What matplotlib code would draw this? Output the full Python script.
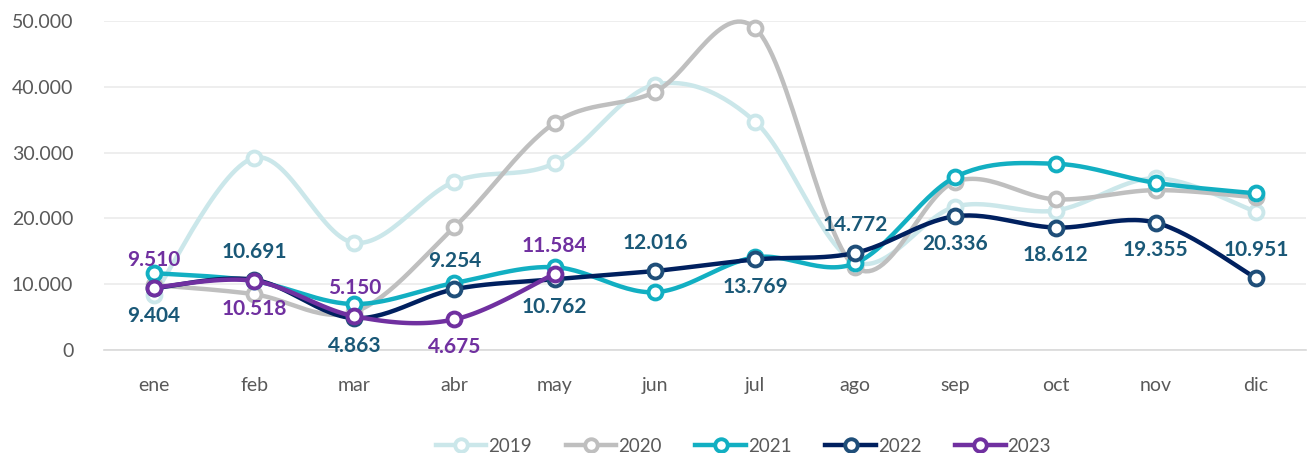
import numpy as np
import matplotlib.pyplot as plt

plt.rcParams['font.family'] = ['Lato', 'DejaVu Sans']

meses = ['ene', 'feb', 'mar', 'abr', 'may', 'jun', 'jul', 'ago', 'sep', 'oct', 'nov', 'dic']

v2019 = [8400, 29200, 16300, 25600, 28400, 40300, 34700, 13400, 21800, 21200, 26100, 21000]
v2020 = [9900, 8500, 5800, 18700, 34500, 39200, 48900, 12600, 25600, 22900, 24300, 23200]
v2021 = [11700, 10500, 7000, 10200, 12600, 8800, 14100, 13200, 26300, 28300, 25400, 23800]
v2022 = [9404, 10691, 4863, 9254, 10762, 12016, 13769, 14772, 20336, 18612, 19355, 10951]
v2023 = [9510, 10518, 5150, 4675, 11584]

# posicion de las etiquetas (1 arriba, -1 abajo)
pos2022 = [-1, 1, -1, 1, -1, 1, -1, 1, -1, -1, -1, 1]
pos2023 = [1, -1, 1, -1, 1]


def suavizar(x, y, n=30):
    # curva suave tipo Excel (Catmull-Rom en Bezier)
    x = np.asarray(x, float)
    y = np.asarray(y, float)
    px = np.concatenate([[x[0]], x, [x[-1]]])
    py = np.concatenate([[y[0]], y, [y[-1]]])
    xs, ys = [], []
    t = np.linspace(0, 1, n)
    for i in range(1, len(px) - 2):
        p0 = np.array([px[i], py[i]])
        p3 = np.array([px[i + 1], py[i + 1]])
        p1 = p0 + (np.array([px[i + 1], py[i + 1]]) - np.array([px[i - 1], py[i - 1]])) / 6
        p2 = p3 - (np.array([px[i + 2], py[i + 2]]) - np.array([px[i], py[i]])) / 6
        b = ((1 - t) ** 3)[:, None] * p0 + (3 * (1 - t) ** 2 * t)[:, None] * p1 \
            + (3 * (1 - t) * t ** 2)[:, None] * p2 + (t ** 3)[:, None] * p3
        xs.extend(b[:, 0])
        ys.extend(b[:, 1])
    return np.array(xs), np.array(ys)


fig = plt.figure(figsize=(13.14, 4.53), dpi=100)
ax = fig.add_axes([0.079, 0.227, 0.915, 0.727])

series = [
    ('2019', v2019, '#CBE7EA', '#CBE7EA'),
    ('2020', v2020, '#BFBFBF', '#BFBFBF'),
    ('2021', v2021, '#12AFC2', '#12AFC2'),
    ('2022', v2022, '#00205F', '#1F4E79'),
    ('2023', v2023, '#7030A0', '#7030A0'),
]

for k, (nombre, vals, col, mcol) in enumerate(series):
    xi = np.arange(len(vals))
    sx, sy = suavizar(xi, vals)
    ax.plot(sx, sy, color=col, lw=3.2, zorder=3 + k, clip_on=False,
            solid_capstyle='round')
    ax.plot(xi, vals, linestyle='none', marker='o', ms=10, mfc='white',
            mec=mcol, mew=2.8, zorder=3 + k, clip_on=False)
    ax.plot([], [], color=col, lw=3.2, marker='o', ms=9, mfc='white',
            mec=mcol, mew=2.8, label=nombre)

for i, v in enumerate(v2022):
    ax.annotate(f'{v:,}'.replace(',', '.'), (i, v), xytext=(0, 20 * pos2022[i]),
                textcoords='offset points', ha='center', va='center',
                fontsize=15, fontweight='bold', color='#1A5877', zorder=10)
for i, v in enumerate(v2023):
    ax.annotate(f'{v:,}'.replace(',', '.'), (i, v), xytext=(0, 20 * pos2023[i]),
                textcoords='offset points', ha='center', va='center',
                fontsize=15, fontweight='bold', color='#7030A0', zorder=10)

ax.set_xlim(-0.5, 11.5)
ax.set_ylim(0, 50000)
ax.set_xticks(range(12))
ax.set_xticklabels(meses)
yt = [0, 10000, 20000, 30000, 40000, 50000]
ax.set_yticks(yt)
ax.set_yticklabels([f'{v:,}'.replace(',', '.') for v in yt])
ax.tick_params(axis='both', length=0, labelsize=14, colors='#595959')
ax.tick_params(axis='x', pad=19)
ax.tick_params(axis='y', pad=22)
ax.grid(axis='y', color='#EBEBEB', lw=1.2)
ax.set_axisbelow(True)
for s in ['top', 'right', 'left']:
    ax.spines[s].set_visible(False)
ax.spines['bottom'].set_color('#D9D9D9')
ax.spines['bottom'].set_linewidth(1.2)

leg = ax.legend(loc='upper center', bbox_to_anchor=(0.532, -0.215), ncol=5,
                frameon=False, fontsize=13.5, handlelength=2.7, columnspacing=1.8,
                handletextpad=0.1, labelcolor='#595959')

fig.savefig('out.png', dpi=100)
